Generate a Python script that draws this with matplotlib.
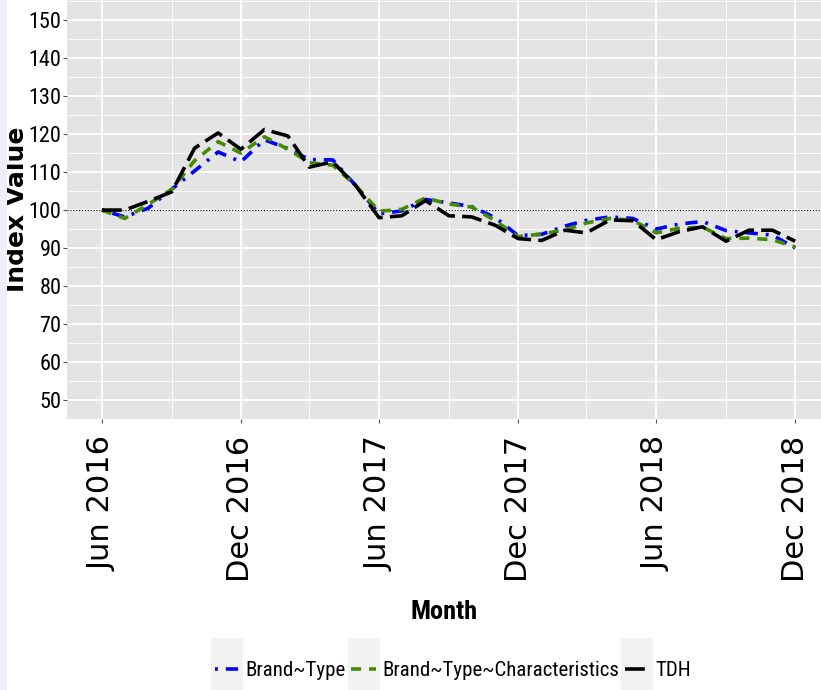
import matplotlib
matplotlib.use("Agg")
import matplotlib.pyplot as plt
import matplotlib.dates as mdates
from matplotlib import font_manager
from matplotlib.patches import Rectangle
from matplotlib.lines import Line2D
from matplotlib.legend_handler import HandlerBase
import numpy as np
import pandas as pd

# monthly index values, Jun 2016 .. Dec 2018
months = pd.date_range("2016-06-01", periods=31, freq="MS")

brand_type = [100.0, 98.2, 100.5, 105.5, 110.3, 115.3, 112.7, 118.5, 116.2, 113.3,
              113.2, 106.5, 99.0, 99.8, 102.8, 101.9, 100.9, 98.0, 93.3, 93.6,
              95.8, 97.3, 98.2, 97.8, 95.0, 96.3, 97.0, 94.6, 94.0, 93.4, 90.0]
brand_type_char = [100.0, 97.8, 101.5, 105.5, 113.0, 118.0, 115.0, 119.3, 116.0, 112.5,
                   111.8, 106.5, 99.7, 100.2, 103.2, 101.6, 100.8, 97.2, 93.0, 93.7,
                   94.8, 96.6, 97.8, 97.3, 94.0, 95.2, 95.5, 92.5, 92.6, 92.2, 90.3]
tdh = [100.0, 100.0, 102.3, 104.8, 116.3, 120.3, 116.0, 121.2, 119.5, 111.3,
       112.7, 106.5, 98.0, 98.5, 102.5, 98.5, 98.2, 96.0, 92.5, 92.0,
       94.7, 94.0, 97.4, 97.2, 92.2, 94.3, 95.6, 91.8, 94.7, 94.7, 91.8]

series_names = ["Brand~Type", "Brand~Type~Characteristics", "TDH"]
series_values = [brand_type, brand_type_char, tdh]
series_colors = ["#0000FF", "#458B00", "#000000"]
series_dashes = [(0, (0.8, 2.2, 3.4, 2.2)), (0, (2.8, 2.2)), (0, (5.5, 2.0))]

y_ticks = list(range(50, 151, 10))
baseline = 100

PANEL = "#E4E4E4"
KEY_BG = "#F2F2F2"


# pick a narrow face for the condensed looking labels, if there is one
font_names = {f.name for f in font_manager.fontManager.ttflist}
narrow = None
for cand in ["Liberation Sans Narrow", "Arial Narrow", "Roboto Condensed", "Open Sans Condensed"]:
    if cand in font_names:
        narrow = cand
        break
if narrow is None:
    narrow = "Liberation Sans"
    shrink = 0.8
else:
    shrink = 1.0


class KeyHandler(HandlerBase):
    """ggplot-like legend key: grey square with the line centred on the text"""

    def create_artists(self, legend, orig_handle, xdescent, ydescent,
                       width, height, fontsize, trans):
        mid = 0.36 * fontsize
        box_h = 3.0 * fontsize
        bg = Rectangle((-xdescent, mid - box_h / 2), width, box_h,
                       facecolor=KEY_BG, edgecolor="none", transform=trans)
        ln = Line2D([-xdescent + 0.12 * width, -xdescent + 0.88 * width], [mid, mid])
        self.update_prop(ln, orig_handle, legend)
        ln.set_transform(trans)
        return [bg, ln]


fig = plt.figure(figsize=(8.21, 6.90), dpi=100)
fig.patch.set_facecolor("white")
# thin pale strip on the left edge
fig.patches.append(Rectangle((0, 0), 7 / 821, 1, transform=fig.transFigure,
                             facecolor="#EEF0F5", edgecolor="none", zorder=0))

ax = fig.add_axes([67 / 821, 271 / 690, 754 / 821, 419 / 690])
ax.set_facecolor(PANEL)
for s in ax.spines.values():
    s.set_visible(False)

handles = []
for name, vals, col, dash in zip(series_names, series_values, series_colors, series_dashes):
    h, = ax.plot(months, vals, color=col, linestyle=dash, linewidth=2.6,
                 label=name, zorder=3)
    handles.append(h)

ax.axhline(baseline, color="black", linestyle=(0, (1, 1.6)), linewidth=0.8, zorder=2)

ax.set_xlim(pd.Timestamp("2016-04-16"), pd.Timestamp("2019-01-04"))
ax.set_ylim(45.0, 155.3)

ax.set_xticks(pd.date_range("2016-06-01", "2018-12-01", freq="6MS"))
ax.set_xticks(pd.date_range("2016-09-01", "2018-09-01", freq="6MS"), minor=True)
ax.xaxis.set_major_formatter(mdates.DateFormatter("%b %Y"))
ax.set_yticks(y_ticks)
ax.set_yticks(np.arange(45, 156, 10), minor=True)

ax.grid(which="major", color="white", linewidth=1.3)
ax.grid(which="minor", color="white", linewidth=0.6)
ax.set_axisbelow(True)

ax.tick_params(axis="both", which="major", color="#555555", length=3, width=0.8)
ax.tick_params(axis="both", which="minor", length=0)
ax.tick_params(axis="y", pad=1)
ax.tick_params(axis="x", pad=9)

for lab in ax.get_yticklabels():
    lab.set_fontfamily(narrow)
    lab.set_fontsize(16 * shrink)
    lab.set_color("black")
for lab in ax.get_xticklabels():
    lab.set_fontfamily("DejaVu Sans")
    lab.set_fontsize(22)
    lab.set_rotation(90)
    lab.set_ha("center")
    lab.set_va("top")
    lab.set_color("black")

ax.set_xlabel("Month", fontfamily=narrow, fontsize=19 * shrink, fontweight="bold", va="center")
ax.xaxis.set_label_coords(0.5, (78 - 271) / 419)
ax.set_ylabel("Index Value", fontfamily="DejaVu Sans", fontsize=18, fontweight="bold",
              va="center", ha="center")
ax.yaxis.set_label_coords((17 - 67) / 754, 0.5)

fsz = 15 * shrink
leg = fig.legend(handles=handles, labels=series_names, loc="center",
                 bbox_to_anchor=(451 / 821, 19 / 690), bbox_transform=fig.transFigure,
                 ncol=3, frameon=False, borderpad=0, borderaxespad=0,
                 handlelength=32 / (fsz * 100 / 72), handletextpad=0.12,
                 columnspacing=0.1, handler_map={Line2D: KeyHandler()},
                 prop={"family": narrow, "size": fsz})

fig.savefig("out.png", dpi=100)
